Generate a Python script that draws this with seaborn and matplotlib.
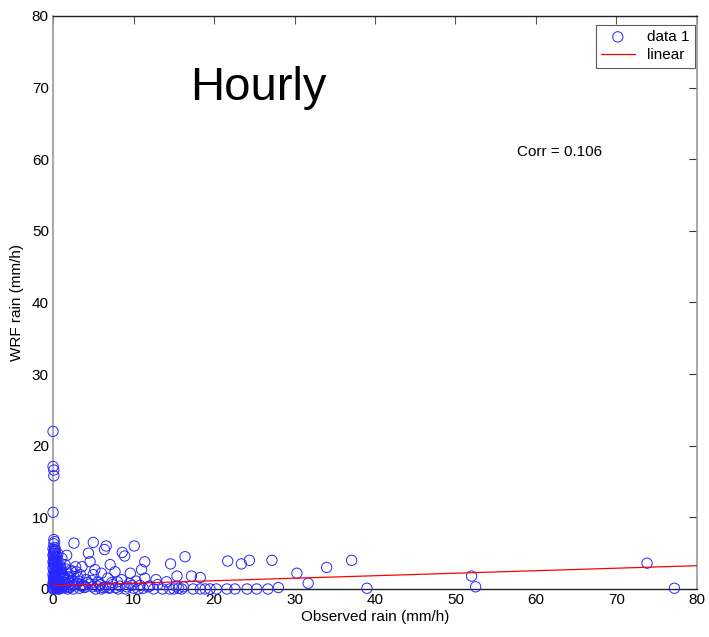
import numpy as np
import pandas as pd
import matplotlib
matplotlib.use("Agg")
import matplotlib.pyplot as plt
import seaborn as sns

# Observed rain (x) and WRF rain (y), mm/h
obs = [0, 0, 0.1, 0.1, 0, 0.1, 0.2, 0.1,
       0, 0.1, 0.2, 0, 0.3, 0.1, 0, 0.2, 0.4, 0, 0.1, 0.3, 0, 0.2, 0.5, 0.1, 0, 0.3, 0.1, 0,
       0.6, 0.4, 0.6, 0.5, 0.3, 0.6, 0.2, 0.4, 0.1, 0.3, 0.5, 0.2,
       0.05, 0.15, 0.25, 0.35, 0.45, 0.05, 0.15, 0.25, 0.35, 0.45, 0.55, 0.05, 0.15,
       0.25, 0.35, 0.45, 0.05, 0.15, 0.25, 0.35, 0.45, 0.55, 0.05, 0.15, 0.25, 0.35,
       0.7, 0.8, 0.7, 0.9, 0.8, 1.0, 0.7, 0.9, 1.1, 1.2, 1.3, 1.0,
       1.0, 1.4, 1.8, 1.2, 0.9, 1.5, 2.2, 2.6, 2.0, 3.0, 3.4, 2.8, 1.1, 1.7, 2.3, 3.6,
       4.1, 3.9, 4.6, 5.0, 4.4, 4.6, 5.2, 5.6, 6.0, 6.2, 6.8, 7.1, 7.7, 7.4, 8.0, 8.5,
       8.6, 8.9, 9.6, 9.2, 10.0, 10.3, 11.0, 11.4, 11.4, 11.8, 2.6, 5.0, 6.6, 6.4, 10.1,
       1.3, 2.0, 0.8, 1.6, 2.4, 3.1, 0.9, 1.9, 2.9, 3.8, 4.8, 5.8, 6.5, 7.3, 8.3, 9.5,
       0.8, 2.5, 3.3, 5.3, 6.0, 7.0, 8.1, 9.0, 10.6, 11.2, 1.5, 4.0, 5.5, 7.8, 9.8,
       1.2, 1.6, 2.1, 2.7, 3.2, 1.4, 1.9, 2.4, 3.5, 4.3, 4.9, 5.9, 6.9, 1.8, 2.3,
       12.5, 13.6, 14.5, 15.0, 15.6, 16.0, 17.4, 18.3, 18.9, 19.5, 20.3, 21.6, 22.6,
       24.1, 25.3, 26.7, 28.0, 14.1, 15.4, 17.2, 18.3, 14.6, 16.4, 21.7, 23.4, 24.4,
       27.2, 30.3, 31.7, 34.0, 37.1, 39.0, 52.0, 52.5, 73.8, 77.2,
       12.0, 13.0, 15.3, 16.2, 12.8, 10.8]
wrf = [22.0, 17.1, 16.6, 15.8, 10.7, 6.9, 6.6, 6.3,
       5.6, 5.3, 5.0, 4.7, 4.4, 4.1, 3.8, 3.5, 3.2, 2.9, 2.6, 2.3, 2.0, 1.7, 1.4, 1.1, 0.8, 0.5, 0.2, 0.0,
       0.0, 0.9, 2.6, 3.9, 5.4, 4.9, 3.0, 1.9, 4.5, 0.3, 0.6, 5.8,
       0.1, 0.4, 0.7, 1.0, 1.3, 1.6, 1.9, 2.2, 2.5, 2.8, 3.1, 3.4, 3.7,
       4.0, 4.3, 4.6, 4.9, 5.2, 5.5, 0.05, 0.35, 0.65, 0.95, 1.25, 1.55, 1.85,
       0.2, 0.6, 1.1, 1.5, 2.0, 2.4, 2.9, 3.3, 0.4, 1.0, 1.8, 2.7,
       0.1, 0.6, 1.2, 2.0, 3.0, 3.4, 2.6, 1.7, 0.3, 0.8, 2.0, 3.1, 4.3, 4.7, 2.4, 3.1,
       1.3, 0.2, 0.7, 2.0, 5.0, 3.8, 2.7, 1.0, 2.2, 0.2, 1.5, 3.4, 2.4, 0.6, 1.0, 1.3,
       5.1, 4.6, 2.2, 0.3, 0.1, 1.1, 2.7, 3.8, 1.5, 0.3, 6.4, 6.5, 6.0, 5.5, 6.0,
       1.5, 1.0, 2.2, 2.8, 0.5, 1.6, 0.4, 2.1, 2.4, 0.5, 1.2, 0.6, 0.3, 0.9, 0.4, 0.8,
       0.0, 0.0, 0.1, 0.0, 0.0, 0.1, 0.0, 0.0, 0.0, 0.1, 0.2, 0.3, 0.4, 0.2, 0.5,
       0.3, 0.9, 0.2, 0.6, 1.1, 1.3, 1.7, 1.2, 0.4, 0.9, 0.3, 0.6, 0.2, 0.0, 0.8,
       0.0, 0.0, 0.0, 0.0, 0.1, 0.0, 0.0, 0.0, 0.0, 0.0, 0.0, 0.0, 0.0,
       0.0, 0.0, 0.0, 0.2, 1.0, 1.8, 1.8, 1.6, 3.5, 4.5, 3.9, 3.5, 4.0,
       4.0, 2.2, 0.8, 3.0, 4.0, 0.1, 1.8, 0.3, 3.6, 0.1,
       0.4, 0.6, 0.4, 0.3, 1.3, 0.5]

# Linear fit line
fit_x = [0, 80]
fit_y = [0.45, 3.25]

corr_text = "Corr = 0.106"
title_text = "Hourly"
x_ticks = [0, 10, 20, 30, 40, 50, 60, 70, 80]
y_ticks = [0, 10, 20, 30, 40, 50, 60, 70, 80]

sns.set_style("white")
plt.rcParams['font.family'] = ['Liberation Sans', 'DejaVu Sans']
plt.rcParams['text.color'] = 'black'
plt.rcParams['axes.labelcolor'] = 'black'

fig = plt.figure(figsize=(7.09, 6.37), dpi=100)
ax = fig.add_axes([0.0748, 0.0754, 0.9082, 0.8996])

df = pd.DataFrame({"obs": obs, "wrf": wrf})
sns.scatterplot(data=df, x="obs", y="wrf", ax=ax, marker="o",
                facecolor="none", edgecolor=(0.15, 0.15, 1.0), linewidth=0.7,
                s=55, label="data 1", zorder=3, clip_on=False)
fit_df = pd.DataFrame({"x": fit_x, "y": fit_y})
sns.lineplot(data=fit_df, x="x", y="y", ax=ax, color="red", linewidth=0.9,
             label="linear", zorder=4)

ax.set_xlim(0, 80)
ax.set_ylim(0, 80)
ax.set_xticks(x_ticks)
ax.set_yticks(y_ticks)
ax.tick_params(direction="in", length=6, width=0.8, top=True, right=True,
               labelsize=11, pad=3)
ax.tick_params(axis="x", colors="#555555", labelcolor="black")
ax.tick_params(axis="y", colors="#333333", labelcolor="black")
for side in ["top", "bottom"]:
    ax.spines[side].set_color("#222222")
    ax.spines[side].set_linewidth(1.0)
for side in ["left", "right"]:
    ax.spines[side].set_color("#999999")
    ax.spines[side].set_linewidth(1.2)

ax.set_xlabel("Observed rain (mm/h)", fontsize=11, labelpad=2)
ax.set_ylabel("WRF rain (mm/h)", fontsize=11, labelpad=6)

ax.text(17.0, 68.3, title_text, fontsize=34, va="baseline", ha="left", color="black")
ax.text(57.6, 61.0, corr_text, fontsize=11, va="center", ha="left", color="black")

leg = ax.legend(loc="upper right", bbox_to_anchor=(0.9965, 0.985), fontsize=11,
                frameon=True, fancybox=False, edgecolor="#333333",
                handlelength=2.2, handletextpad=0.8, borderpad=0.35,
                labelspacing=0.3, borderaxespad=0.0)
leg.get_frame().set_linewidth(0.8)
for t in leg.get_texts():
    t.set_color("black")

fig.savefig("out.png", dpi=100)
